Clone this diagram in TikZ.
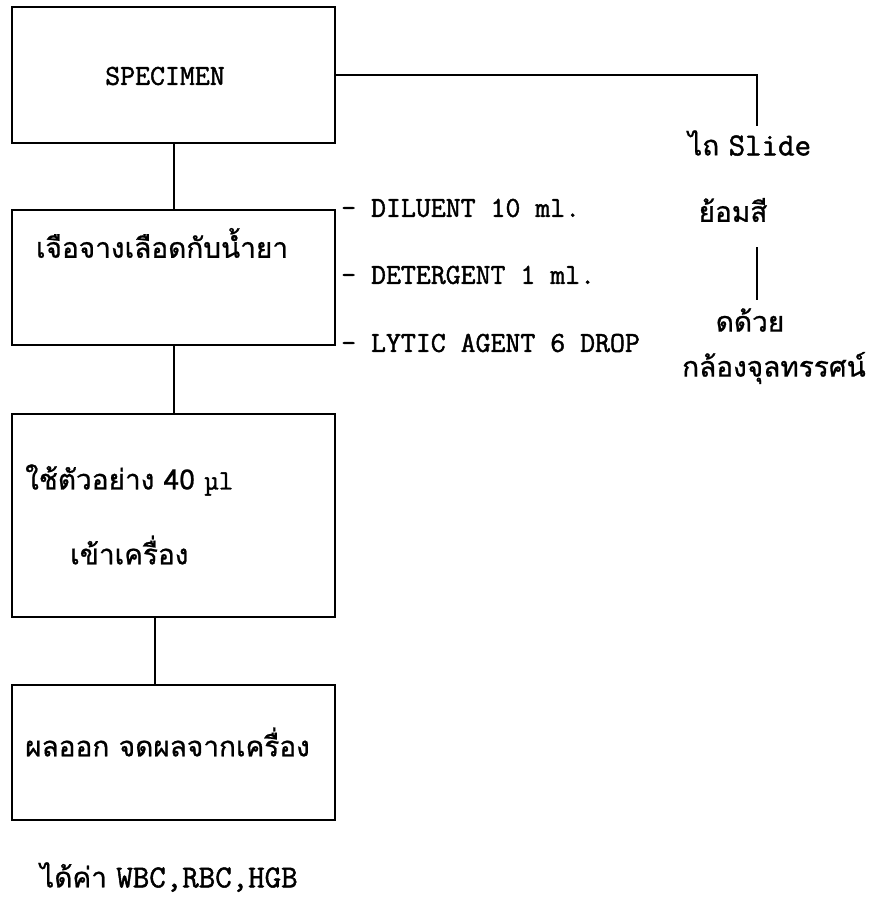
\documentclass[tikz,border=0pt]{standalone}
\usepackage{fontspec}
\newfontfamily\thai[Script=Thai,FakeBold=0.8]{Loma}
\newfontfamily\mono[FakeBold=1.5]{Latin Modern Mono}
\begin{document}
\begin{tikzpicture}[x=1pt,y=-1pt,
  box/.style={draw, line width=2pt, minimum width=323pt, inner sep=0pt},
  ln/.style={line width=2pt},
  th/.style={font=\thai\fontsize{28}{32}\selectfont, inner sep=0pt},
  mn/.style={font=\mono\fontsize{29}{32}\selectfont, inner sep=0pt}]
\useasboundingbox (0,0) rectangle (869,904);
% boxes
\node[box, minimum height=136pt] (b1) at (173.5,75) {};
\node[box, minimum height=135pt] (b2) at (173.5,277.5) {};
\node[box, minimum height=203pt] (b3) at (173.5,515.5) {};
\node[box, minimum height=135pt] (b4) at (173.5,752.5) {};
% box texts
\node[mn] (t1) at (165,76) {SPECIMEN};
\node[th] (t2) at (162,243) {เจือจางเลือดกับน้ำยา};
\node[th, anchor=west] (t3a) at (25,480) {ใช้ตัวอย่าง 40 {\mono µl}};
\node[th, anchor=west] (t3b) at (70,550) {เข้าเครื่อง};
\node[th, anchor=west] (t4) at (25,742) {ผลออก จดผลจากเครื่อง};
\node[th, anchor=west] (t5) at (40,877) {ได้ค่า {\mono\fontsize{32}{34}\selectfont WBC,RBC,HGB}};
% reagent labels
\node[mn, anchor=west] (r1) at (341,208) {– DILUENT 10 ml.};
\node[mn, anchor=west] (r2) at (341,275) {– DETERGENT 1 ml.};
\node[mn, anchor=west] (r3) at (341,343) {– LYTIC AGENT 6 DROP};
% right branch
\node[th, anchor=west] (s1) at (688,143) {ไถ {\mono\fontsize{32}{34}\selectfont Slide}};
\node[th] (s2) at (733,210) {ย้อมสี};
\node[th] (s3) at (750,320) {ดด้วย};
\node[th] (s4) at (774,368) {กล้องจุลทรรศน์};
\coordinate (c1) at (757,126);
\coordinate (c2) at (757,247);
\coordinate (c3) at (757,300);
% connectors
\draw[ln] (b1.south) -- (b2.north);
\draw[ln] (b2.south) -- (b3.north);
\draw[ln] ([xshift=144pt]b3.south west) -- ([xshift=144pt]b4.north west);
\draw[ln] (b1.east) -| (c1);
\draw[ln] (c2) -- (c3);
\end{tikzpicture}
\end{document}
